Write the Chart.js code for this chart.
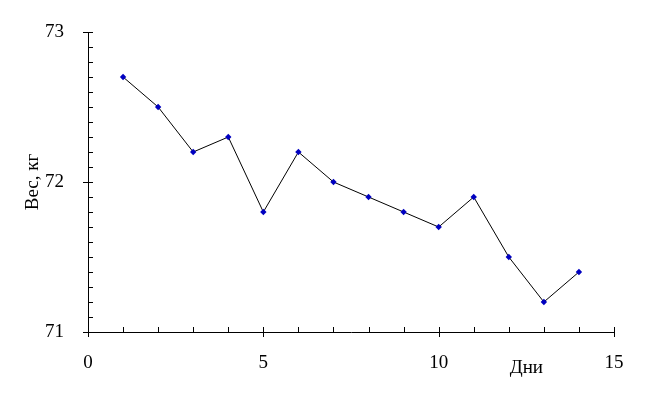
<!DOCTYPE html>
<html>
<head>
<meta charset="utf-8">
<script src="https://cdn.jsdelivr.net/npm/chart.js@4"></script>
<style>
  html, body { margin: 0; padding: 0; background: #fff; }
  #wrap { width: 646px; height: 403px; }
</style>
</head>
<body>
<div id="wrap"><canvas id="chart" width="646" height="403"></canvas></div>
<script>
'use strict';

// --- DATA ---
const days = [1, 2, 3, 4, 5, 6, 7, 8, 9, 10, 11, 12, 13, 14];
const weights = [72.7, 72.5, 72.2, 72.3, 71.8, 72.2, 72.0, 71.9, 71.8, 71.7, 71.9, 71.5, 71.2, 71.4];
const xTicks = [0, 5, 10, 15];
const yTicks = [71, 72, 73];
const xTitle = 'Дни';
const yTitle = 'Вес, кг';

const FONT = "'Liberation Serif', 'Times New Roman', serif";
const FSIZE = 19;

// tick marks like the old spreadsheet style: major crosses the axis, minor inside
const axisTicks = {
    id: 'axisTicks',
    afterDraw(chart) {
        const { ctx, chartArea, scales } = chart;
        const x = scales.x, y = scales.y;
        ctx.save();
        ctx.strokeStyle = '#000';
        ctx.lineWidth = 1;
        ctx.beginPath();
        for (let v = x.min; v <= x.max + 1e-9; v += 1) {
            const px = Math.round(x.getPixelForValue(v)) + 0.5;
            const major = Math.abs(v % 5) < 1e-9;
            ctx.moveTo(px, chartArea.bottom - 5);
            ctx.lineTo(px, chartArea.bottom + (major ? 5 : 0));
        }
        for (let i = 0; i <= 20; i++) {
            const v = y.min + i * 0.1;
            const py = Math.round(y.getPixelForValue(v)) + 0.5;
            const major = i % 10 === 0;
            ctx.moveTo(chartArea.left - (major ? 5 : 0), py);
            ctx.lineTo(chartArea.left + 5, py);
        }
        ctx.stroke();

        ctx.fillStyle = '#000';
        ctx.font = FSIZE + 'px ' + FONT;
        ctx.textAlign = 'center';
        ctx.textBaseline = 'middle';
        ctx.fillText(xTitle, x.getPixelForValue(12.5), 368);
        ctx.restore();
    }
};

const ctx = document.getElementById('chart').getContext('2d');
new Chart(ctx, {
    type: 'scatter',
    data: {
        datasets: [{
            data: days.map((d, i) => ({ x: d, y: weights[i] })),
            showLine: true,
            borderColor: '#000',
            borderWidth: 1,
            pointStyle: 'rectRot',
            pointRadius: 3.2,
            pointBackgroundColor: '#0000c0',
            pointBorderColor: '#0000c0',
            pointBorderWidth: 0
        }]
    },
    options: {
        responsive: false,
        animation: false,
        events: [],
        layout: { padding: { left: 0, top: 32, right: 32, bottom: 0 } },
        plugins: { legend: { display: false }, tooltip: { enabled: false } },
        scales: {
            x: {
                type: 'linear',
                min: 0,
                max: 15,
                afterBuildTicks: scale => { scale.ticks = xTicks.map(v => ({ value: v })); },
                afterFit: scale => { scale.height = 71; },
                grid: { display: false },
                border: { display: true, color: '#000', width: 1 },
                ticks: { color: '#000', padding: 12, font: { family: FONT, size: FSIZE }, maxRotation: 0 }
            },
            y: {
                type: 'linear',
                min: 71,
                max: 73,
                afterBuildTicks: scale => { scale.ticks = yTicks.map(v => ({ value: v })); },
                afterFit: scale => { scale.width = 88; },
                grid: { display: false },
                border: { display: true, color: '#000', width: 1 },
                ticks: { color: '#000', padding: 16, font: { family: FONT, size: FSIZE } },
                title: {
                    display: true,
                    text: yTitle,
                    color: '#000',
                    font: { family: FONT, size: FSIZE },
                    padding: { top: 22, bottom: 0 }
                }
            }
        }
    },
    plugins: [axisTicks]
});
</script>
</body>
</html>
